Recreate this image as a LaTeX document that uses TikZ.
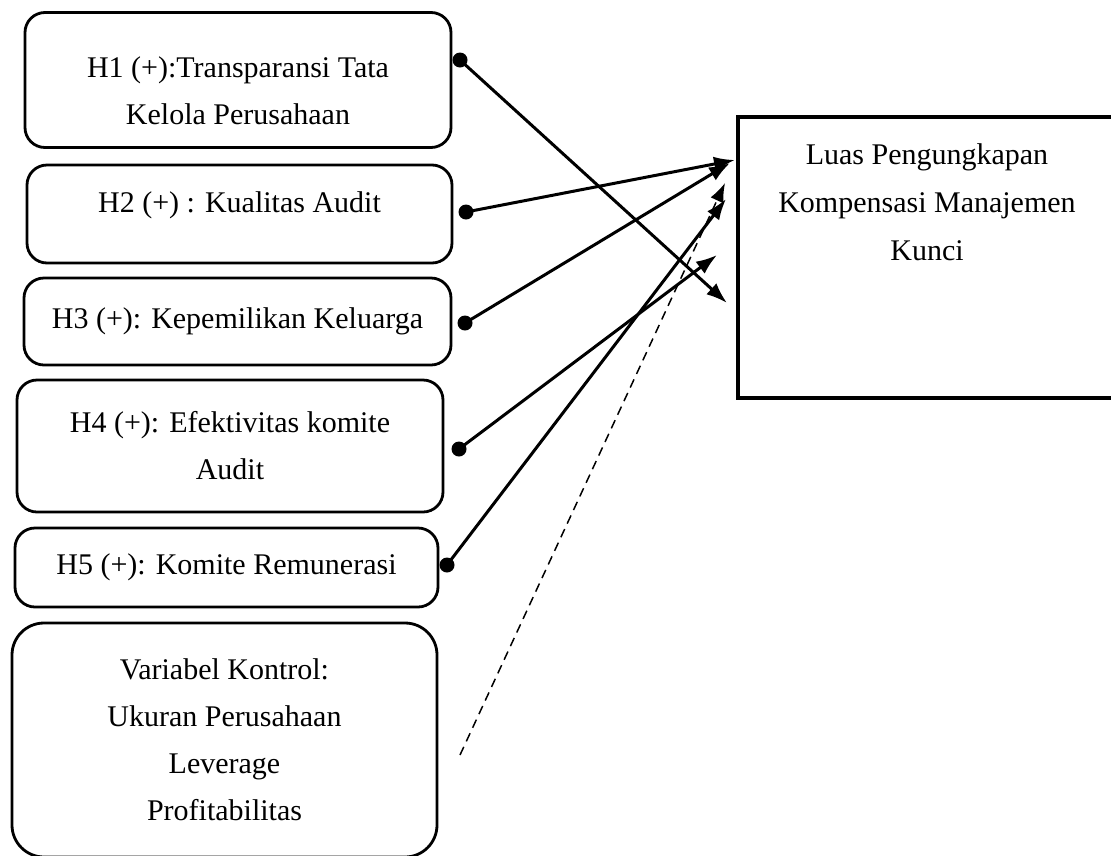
\documentclass[tikz,border=0pt]{standalone}
\usepackage{fontspec}
\setmainfont{Liberation Serif}
\usepackage{tikz}
\usetikzlibrary{positioning,arrows.meta,calc}

\begin{document}
\begin{tikzpicture}[x=1pt,y=-1pt,
    hbox/.style={draw,line width=2.8pt,rounded corners=20pt,align=center,inner sep=0pt,
      font=\fontsize{30}{47}\selectfont},
    target/.style={draw,line width=3.2pt,minimum width=378pt,minimum height=281pt,inner sep=0pt},
    dot/.style={circle,fill,inner sep=0pt,minimum size=15pt},
    link/.style={line width=3pt,-{Latex[length=21pt,width=15pt]}},
    ctrl/.style={line width=1.5pt,dash pattern=on 9pt off 6pt,-{Latex[length=19pt,width=14pt]}}]
  \useasboundingbox (0,0) rectangle (1111,855);
  \clip (0,0) rectangle (1111,855);

  % hipotesis
  \node[hbox,minimum width=426pt,minimum height=135pt] (h1) at (238,80) {\rule{0pt}{42pt}H1 (+):Transparansi Tata\\Kelola Perusahaan};
  \node[hbox,minimum width=425pt,minimum height=98pt,text depth=24pt] (h2) at (239.5,214) {H2 (+) : Kualitas Audit};
  \node[hbox,minimum width=427pt,minimum height=87pt] (h3) at (237.5,321.5) {H3 (+): Kepemilikan Keluarga};
  \node[hbox,minimum width=426pt,minimum height=132pt] (h4) at (230,446) {H4 (+): Efektivitas komite\\Audit};
  \node[hbox,minimum width=423pt,minimum height=79pt] (h5) at (226.5,567.5) {H5 (+): Komite Remunerasi};
  \node[hbox,rounded corners=32pt,minimum width=425pt,minimum height=234pt] (kontrol) at (224.5,740)
    {Variabel Kontrol:\\Ukuran Perusahaan\\Leverage\\Profitabilitas};

  % variabel dependen
  \node[target] (luas) at (927,257.5) {};
  \node[align=center,inner sep=0pt,font=\fontsize{30}{48}\selectfont] (luastext) at ([yshift=55pt]luas.center)
    {Luas Pengungkapan\\Kompensasi Manajemen\\Kunci};

  \node[dot] (d1) at (460,60) {};
  \node[dot] (d2) at (466,212) {};
  \node[dot] (d3) at (465,323) {};
  \node[dot] (d4) at (459,449) {};
  \node[dot] (d5) at (447,565) {};

  \coordinate (e1) at (727,303);
  \coordinate (e2) at (735,160);
  \coordinate (e3) at (730,163);
  \coordinate (e4) at (717,255);
  \coordinate (e5) at (726,199);
  \coordinate (c0) at (460,755);
  \coordinate (c1) at (725,183);

  \draw[link] (d1.center) -- (e1);
  \draw[link] (d2.center) -- (e2);
  \draw[link] (d3.center) -- (e3);
  \draw[link] (d4.center) -- (e4);
  \draw[link] (d5.center) -- (e5);
  \draw[ctrl] (c0) -- (c1);
\end{tikzpicture}
\end{document}
